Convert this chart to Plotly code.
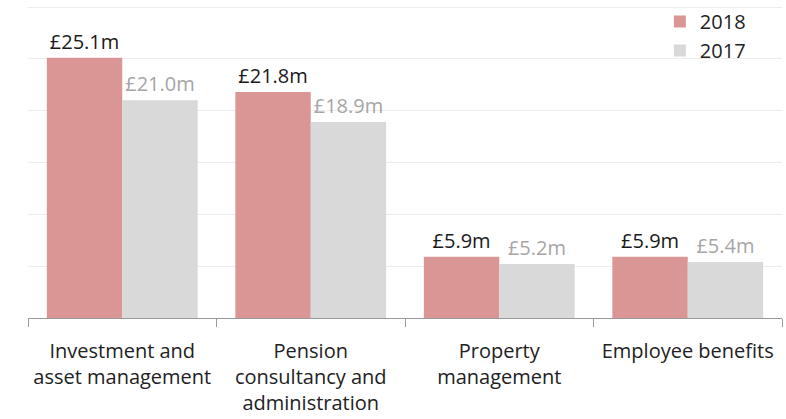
import plotly.graph_objects as go

# Revenue by business line, £m
categories = [
    "Investment and<br>asset management",
    "Pension<br>consultancy and<br>administration",
    "Property<br>management",
    "Employee benefits",
]
revenue_2018 = [25.1, 21.8, 5.9, 5.9]
revenue_2017 = [21.0, 18.9, 5.2, 5.4]

FONT = "Open Sans"
PINK = "#d99694"
GREY = "#d9d9d9"
SIZE = 20

fig = go.Figure()
fig.add_trace(go.Bar(
    name="2018", x=categories, y=revenue_2018,
    marker=dict(color=PINK, line=dict(width=0)),
    text=[f"£{v:.1f}m" for v in revenue_2018],
    textposition="outside",
    textfont=dict(family=FONT, size=SIZE, color="#1a1a1a"),
    cliponaxis=False, constraintext="none",
))
fig.add_trace(go.Bar(
    name="2017", x=categories, y=revenue_2017,
    marker=dict(color=GREY, line=dict(width=0)),
    text=[f"£{v:.1f}m" for v in revenue_2017],
    textposition="outside",
    textfont=dict(family=FONT, size=SIZE, color="#a6a6a6"),
    cliponaxis=False, constraintext="none",
))

fig.update_layout(
    width=786, height=419,
    margin=dict(l=28, r=4, t=6, b=101, autoexpand=False),
    barmode="group", bargap=0.2, bargroupgap=0,
    plot_bgcolor="white", paper_bgcolor="white",
    font=dict(family=FONT, size=SIZE, color="#222222"),
    showlegend=True,
    legend=dict(
        x=0.838, y=0.995, xanchor="left", yanchor="top", yref="container",
        font=dict(family=FONT, size=SIZE, color="#222222"),
        bgcolor="rgba(0,0,0,0)", tracegroupgap=0, itemwidth=30,
    ),
    xaxis=dict(
        showline=True, linecolor="#999999", linewidth=1,
        ticks="outside", tickson="boundaries", ticklen=8, tickcolor="#999999",
        tickfont=dict(family=FONT, size=SIZE, color="#222222"),
        ticklabelstandoff=15, automargin=False,
        showgrid=False,
    ),
    yaxis=dict(
        range=[0, 30.1], tick0=0, dtick=5, showticklabels=False,
        showgrid=True, gridcolor="#ececec", gridwidth=1,
        zeroline=False, showline=False,
    ),
)

fig.write_html("out.html")
